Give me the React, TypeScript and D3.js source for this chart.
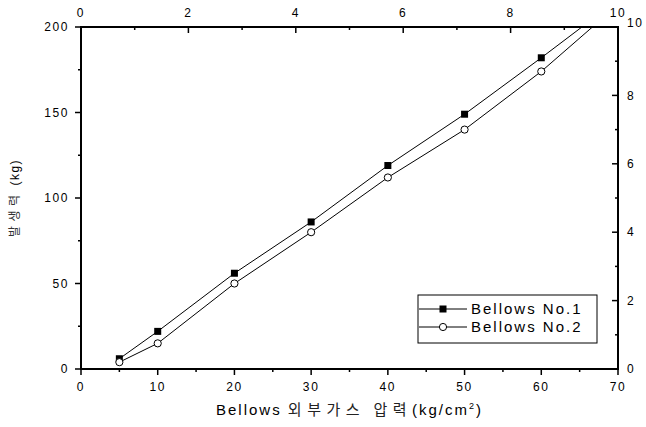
import React from "react";
import * as d3 from "d3";

// pressure (kg/cm2) vs generated force (kg)
const pressure = [5, 10, 20, 30, 40, 50, 60, 70];
const bellows1 = [6, 22, 56, 86, 119, 149, 182, 216];
const bellows2 = [4, 15, 50, 80, 112, 140, 174, 213];
const seriesNames = ["Bellows No.1", "Bellows No.2"];

const bottomTicks = [0, 10, 20, 30, 40, 50, 60, 70];
const leftTicks = [0, 50, 100, 150, 200];
const secondaryTicks = [0, 2, 4, 6, 8, 10];

const font = "'Liberation Sans', Arial, 'Noto Sans CJK KR', sans-serif";

export default function App() {
  const W = 646;
  const H = 427;
  const margin = { left: 81, top: 27, right: 28, bottom: 58 };
  const width = W - margin.left - margin.right;
  const height = H - margin.top - margin.bottom;

  const x = d3.scaleLinear().domain([0, 70]).range([0, width]);
  const y = d3.scaleLinear().domain([0, 200]).range([height, 0]);
  const x2 = d3.scaleLinear().domain([0, 10]).range([0, width]);
  const y2 = d3.scaleLinear().domain([0, 10]).range([height, 0]);

  const line = d3
    .line<number>()
    .x((_, i) => x(pressure[i]))
    .y((d) => y(d));

  const major = 6;
  const minor = 3;
  const tickStyle = { stroke: "#000", strokeWidth: 1.5 };
  const labelStyle = { fontSize: 12, letterSpacing: 1.6, fill: "#000" };

  const legend = { x: 418 - margin.left, y: 295 - margin.top, w: 179, h: 48 };

  return (
    <svg
      width={W}
      height={H}
      style={{ position: "absolute", left: 0, top: 0, fontFamily: font }}
    >
      <defs>
        <clipPath id="plot-clip">
          <rect x={0} y={0} width={width} height={height} />
        </clipPath>
      </defs>
      <rect width={W} height={H} fill="#fff" />
      <g transform={`translate(${margin.left},${margin.top})`}>
        {/* series */}
        <g clipPath="url(#plot-clip)">
          <path d={line(bellows1) ?? ""} fill="none" stroke="#000" strokeWidth={1} />
          <path d={line(bellows2) ?? ""} fill="none" stroke="#000" strokeWidth={1} />
          {bellows1.map((v, i) => (
            <rect
              key={"s" + i}
              x={x(pressure[i]) - 3.5}
              y={y(v) - 3.5}
              width={7}
              height={7}
              fill="#000"
            />
          ))}
          {bellows2.map((v, i) => (
            <circle
              key={"c" + i}
              cx={x(pressure[i])}
              cy={y(v)}
              r={3.6}
              fill="#fff"
              stroke="#000"
              strokeWidth={1}
            />
          ))}
        </g>

        {/* frame */}
        <rect
          x={0}
          y={0}
          width={width}
          height={height}
          fill="none"
          stroke="#000"
          strokeWidth={2}
        />

        {/* bottom axis, ticks outward */}
        {d3.range(0, 71, 5).map((v) => (
          <line
            key={"bt" + v}
            x1={x(v)}
            x2={x(v)}
            y1={height}
            y2={height + (v % 10 === 0 ? major : minor)}
            {...tickStyle}
          />
        ))}
        {bottomTicks.map((v) => (
          <text key={"bl" + v} x={x(v)} y={height + 22} textAnchor="middle" {...labelStyle}>
            {v}
          </text>
        ))}

        {/* left axis, ticks outward */}
        {d3.range(0, 201, 25).map((v) => (
          <line
            key={"lt" + v}
            x1={0}
            x2={-(v % 50 === 0 ? major : minor)}
            y1={y(v)}
            y2={y(v)}
            {...tickStyle}
          />
        ))}
        {leftTicks.map((v) => (
          <text
            key={"ll" + v}
            x={-12}
            y={y(v)}
            dy="0.35em"
            textAnchor="end"
            {...labelStyle}
          >
            {v}
          </text>
        ))}

        {/* top axis, ticks inward */}
        {d3.range(0, 11, 1).map((v) => (
          <line
            key={"tt" + v}
            x1={x2(v)}
            x2={x2(v)}
            y1={0}
            y2={v % 2 === 0 ? major : minor}
            {...tickStyle}
          />
        ))}
        {secondaryTicks.map((v) => (
          <text key={"tl" + v} x={x2(v)} y={-10} textAnchor="middle" {...labelStyle}>
            {v}
          </text>
        ))}

        {/* right axis, ticks inward */}
        {d3.range(0, 11, 1).map((v) => (
          <line
            key={"rt" + v}
            x1={width}
            x2={width - (v % 2 === 0 ? major : minor)}
            y1={y2(v)}
            y2={y2(v)}
            {...tickStyle}
          />
        ))}
        {secondaryTicks.map((v) => (
          <text
            key={"rl" + v}
            x={width + 9}
            y={y2(v) - (v === 10 ? 4 : 0)}
            dy="0.35em"
            textAnchor="start"
            {...labelStyle}
          >
            {v}
          </text>
        ))}

        {/* legend */}
        <g transform={`translate(${legend.x},${legend.y})`}>
          <rect width={legend.w} height={legend.h} fill="#fff" stroke="#000" strokeWidth={1} />
          {seriesNames.map((name, i) => {
            const cy = 14 + i * 18;
            return (
              <g key={name}>
                <line x1={1} x2={49} y1={cy} y2={cy} stroke="#000" strokeWidth={1} />
                {i === 0 ? (
                  <rect x={25 - 3.5} y={cy - 3.5} width={7} height={7} fill="#000" />
                ) : (
                  <circle cx={25} cy={cy} r={3.6} fill="#fff" stroke="#000" strokeWidth={1} />
                )}
                <text
                  x={53}
                  y={cy}
                  dy="0.36em"
                  fontSize={15}
                  letterSpacing={2}
                  fill="#000"
                >
                  {name}
                </text>
              </g>
            );
          })}
        </g>

        {/* axis titles */}
        <text
          x={width / 2}
          y={height + 46}
          textAnchor="middle"
          fontSize={15}
          letterSpacing={2}
          fill="#000"
          style={{ whiteSpace: "pre" }}
        >
          {"Bellows "}
          <tspan letterSpacing={5.5} fill="#222">
            외부가스
          </tspan>
          <tspan letterSpacing={0}>{"  "}</tspan>
          <tspan letterSpacing={5.5} fill="#222">
            압력
          </tspan>
          {"(kg/cm"}
          <tspan fontSize={9} dy={-6}>
            2
          </tspan>
          <tspan dy={6}>)</tspan>
        </text>
        <text
          transform={`translate(${15 - margin.left},${height / 2}) rotate(-90)`}
          textAnchor="middle"
          dy="0.35em"
          fontSize={12}
          fill="#000"
        >
          <tspan letterSpacing={4.5} fill="#333">
            발생력
          </tspan>
          <tspan letterSpacing={1.5}> (kg)</tspan>
        </text>
      </g>
    </svg>
  );
}
